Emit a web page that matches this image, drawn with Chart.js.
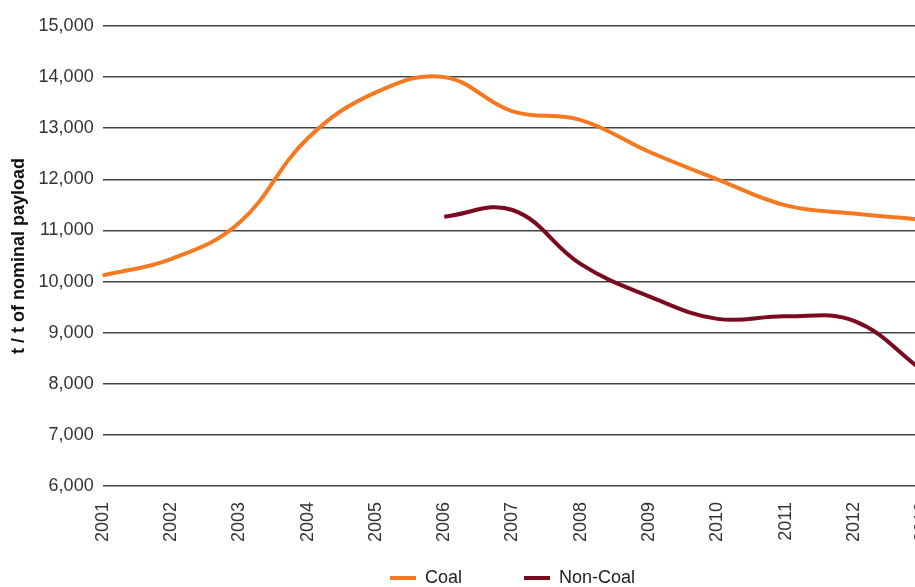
<!DOCTYPE html>
<html>
<head>
<meta charset="utf-8">
<script src="https://cdn.jsdelivr.net/npm/chart.js@4/dist/chart.umd.min.js"></script>
<style>
  html, body { margin: 0; padding: 0; background: #fff; overflow: hidden; }
  #wrap { width: 915px; height: 587px; overflow: hidden; }
</style>
</head>
<body>
<div id="wrap"><canvas id="payloadChart" width="952" height="597"></canvas></div>
<script>
const years = ['2001', '2002', '2003', '2004', '2005', '2006', '2007', '2008', '2009', '2010', '2011', '2012', '2013'];
const coal = [10120, 10440, 11150, 12800, 13700, 14000, 13330, 13160, 12540, 12000, 11490, 11330, 11210];
const nonCoal = [null, null, null, null, null, 11270, 11400, 10340, 9710, 9270, 9320, 9230, 8260];
const yTicks = [6000, 7000, 8000, 9000, 10000, 11000, 12000, 13000, 14000, 15000];

const ctx = document.getElementById('payloadChart').getContext('2d');
const payloadChart = new Chart(ctx, {
    type: 'line',
    data: {
        labels: years,
        datasets: [
            {
                label: 'Coal',
                data: coal,
                borderColor: '#f47920',
                backgroundColor: '#f47920',
                borderWidth: 4,
                pointRadius: 0,
                tension: 0.4
            },
            {
                label: 'Non-Coal',
                data: nonCoal,
                borderColor: '#7b0a1e',
                backgroundColor: '#7b0a1e',
                borderWidth: 4,
                pointRadius: 0,
                tension: 0.4
            }
        ]
    },
    options: {
        responsive: false,
        animation: false,
        layout: { padding: { top: 26, right: 22, left: 4, bottom: 0 } },
        plugins: {
            tooltip: { enabled: false },
            legend: {
                position: 'bottom',
                fullSize: false,
                labels: {
                    usePointStyle: true,
                    pointStyle: 'line',
                    pointStyleWidth: 26,
                    boxHeight: 14,
                    padding: 62,
                    color: '#222',
                    font: { family: 'Liberation Sans', size: 18 }
                }
            }
        },
        scales: {
            x: {
                offset: false,
                grid: { display: false },
                border: { display: false },
                ticks: {
                    color: '#333',
                    maxRotation: 90,
                    minRotation: 90,
                    padding: 8,
                    font: { family: 'Liberation Sans', size: 18 }
                },
                // short axis box so the wide-spaced legend doesn't squeeze the plot;
                // labels are allowed to hang below it (no clipping)
                afterFit: (scale) => {
                    scale.height = 21;
                    scale._computeLabelArea = () => undefined;
                }
            },
            y: {
                min: 6000,
                max: 15000,
                afterBuildTicks: (axis) => { axis.ticks = yTicks.map(v => ({ value: v })); },
                grid: { color: '#444', lineWidth: 1.5, drawTicks: false },
                border: { display: false },
                ticks: {
                    color: '#333',
                    padding: 9,
                    font: { family: 'Liberation Sans', size: 18 },
                    callback: (v) => v.toLocaleString('en-US')
                },
                title: {
                    display: true,
                    text: 't / t of nominal payload',
                    color: '#111',
                    padding: { top: 4, bottom: 0 },
                    font: { family: 'Liberation Sans', size: 18, weight: 'bold' }
                }
            }
        }
    }
});
</script>
</body>
</html>
